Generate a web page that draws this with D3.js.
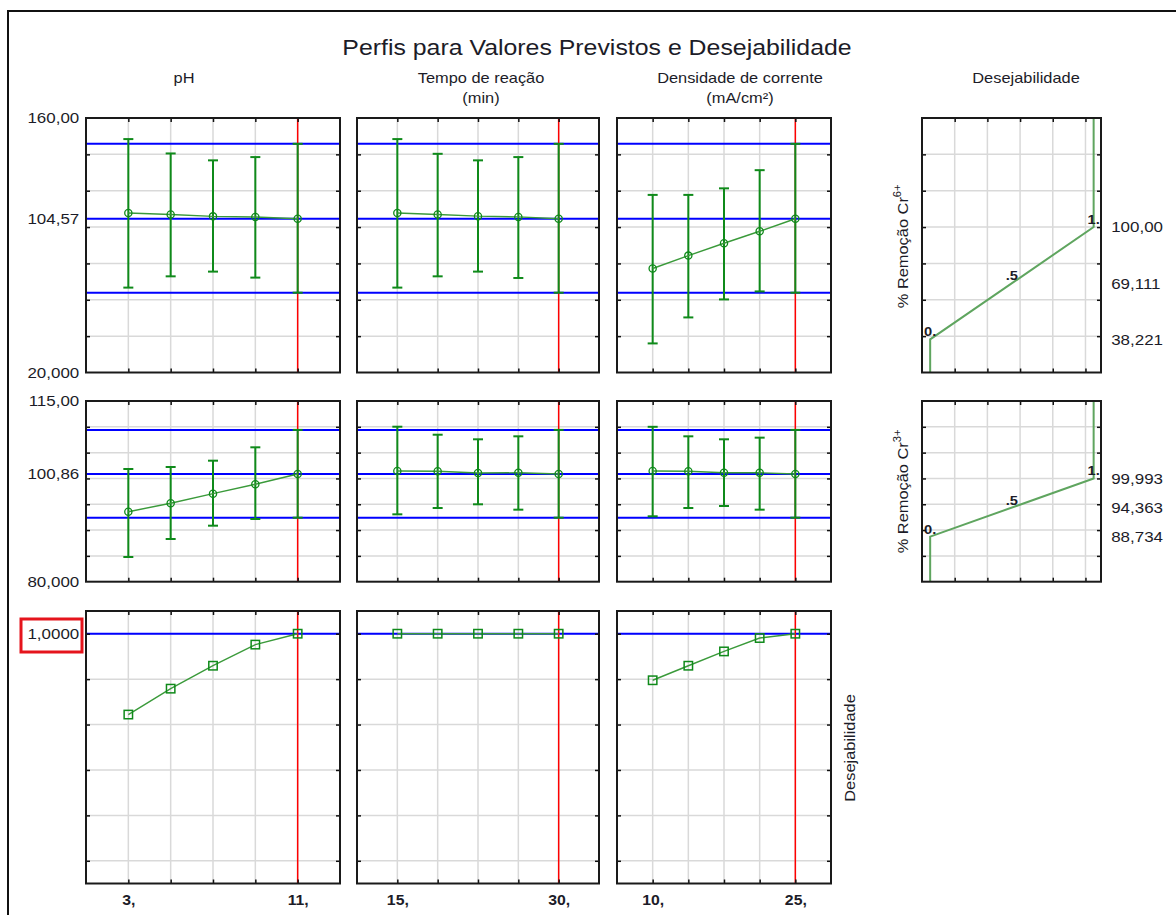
<!DOCTYPE html>
<html>
<head>
<meta charset="utf-8">
<script src="https://cdn.jsdelivr.net/npm/d3@7"></script>
<style>
  html, body { margin: 0; background: #fff; overflow: hidden; }
  svg { display: block; }
  svg text { font-family: "Liberation Sans", Arial, sans-serif; fill: #1c1c28; }
</style>
</head>
<body>
<svg id="chart" width="1176" height="915"></svg>
<script>
// Factor levels (x values of each column)
const phLevels = [3, 5, 7, 9, 11];
const tempoLevels = [15, 18.75, 22.5, 26.25, 30];
const densLevels = [10, 13.75, 17.5, 21.25, 25];
const currentLevels = [11, 30, 25];

// % Remoção Cr6+ : predicted value and confidence limits
const cr6PhMean = [107.7, 106.9, 105.9, 105.5, 104.57];
const cr6PhLow = [66.7, 72.9, 75.5, 72.2, 63.9];
const cr6PhHigh = [148.4, 140.5, 136.7, 138.5, 145.8];
const cr6TempoMean = [107.7, 106.9, 106.0, 105.6, 104.57];
const cr6TempoLow = [66.7, 72.9, 75.5, 72.0, 63.9];
const cr6TempoHigh = [148.4, 140.3, 136.7, 138.5, 145.8];
const cr6DensMean = [77.2, 84.3, 91.1, 97.7, 104.57];
const cr6DensLow = [36.0, 50.3, 60.2, 64.6, 63.9];
const cr6DensHigh = [117.7, 117.7, 121.3, 131.3, 145.8];
const cr6Ref = [63.9, 104.57, 145.8];
const cr6Domain = [20, 160];
const cr6Labels = [160, 104.57, 20];

// % Remoção Cr3+
const cr3PhMean = [93.56, 95.19, 97.05, 98.87, 100.86];
const cr3PhLow = [84.78, 88.27, 90.85, 92.14, 92.4];
const cr3PhHigh = [101.83, 102.22, 103.44, 106.03, 109.4];
const cr3TempoMean = [101.44, 101.39, 101.05, 101.1, 100.86];
const cr3TempoLow = [93.05, 94.27, 94.99, 93.95, 92.4];
const cr3TempoHigh = [110.02, 108.47, 107.58, 108.16, 109.4];
const cr3DensMean = [101.44, 101.4, 101.1, 101.1, 100.86];
const cr3DensLow = [92.67, 94.27, 94.66, 93.95, 92.4];
const cr3DensHigh = [110.0, 108.16, 107.58, 107.9, 109.4];
const cr3Ref = [92.4, 100.86, 109.4];
const cr3Domain = [80, 115];
const cr3Labels = [115, 100.86, 80];

// Desejabilidade global
const despPh = [0.644, 0.758, 0.859, 0.952, 1.0];
const despTempo = [1, 1, 1, 1, 1];
const despDens = [0.795, 0.859, 0.922, 0.981, 1.0];
const despRef = [1.0];
const despDomain = [-0.1, 1.1];
const despLabels = [1.0];

// desirability functions (response value at d = 0, .5, 1)
const desirLevels = [0, 0.5, 1];
const desirTexts = ["0.", ".5", "1."];
const cr6Desir = [38.221, 69.111, 100.00];
const cr3Desir = [88.734, 94.363, 99.993];
const desirDomain = [-0.05, 1.045];
const desirGrid = [0.15, 0.35, 0.55, 0.75, 0.95];

const svg = d3.select("#chart");
const SX = 1.13; // the original font is drawn wide
const GRID = "#d9d9d9";
const GREEN = "#0f8a1a";

const locale = d3.formatLocale({ decimal: ",", thousands: ".", grouping: [3], currency: ["", ""] });
const fmt = locale.format(".5r");

// layout
const cols = [
  { x0: 86, x1: 340, head: 184, lines: ["pH"] },
  { x0: 357, x1: 599, head: 481, lines: ["Tempo de reação", "(min)"] },
  { x0: 617, x1: 831, head: 740, lines: ["Densidade de corrente", "(mA/cm²)"] }
];
const desCol = { x0: 922, x1: 1101, head: 1026 };
const rows = [
  { y0: 118, y1: 372.5 },
  { y0: 401, y1: 581.7 },
  { y0: 611, y1: 883.5 }
];
const levels = [phLevels, tempoLevels, densLevels];

const responses = [
  { domain: cr6Domain, step: 20, ref: cr6Ref, labels: cr6Labels,
    means: [cr6PhMean, cr6TempoMean, cr6DensMean],
    lows: [cr6PhLow, cr6TempoLow, cr6DensLow],
    highs: [cr6PhHigh, cr6TempoHigh, cr6DensHigh] },
  { domain: cr3Domain, step: 5, ref: cr3Ref, labels: cr3Labels,
    means: [cr3PhMean, cr3TempoMean, cr3DensMean],
    lows: [cr3PhLow, cr3TempoLow, cr3DensLow],
    highs: [cr3PhHigh, cr3TempoHigh, cr3DensHigh] },
  { domain: despDomain, step: 0.2, ref: despRef, labels: despLabels,
    means: [despPh, despTempo, despDens] }
];

// outer frame
svg.append("path")
  .attr("d", "M8,930V11H1190")
  .attr("fill", "none")
  .attr("stroke", "#111")
  .attr("stroke-width", 2);

function txt(parent, x, y, str, size, opts = {}) {
  return parent.append("text")
    .attr("transform", `translate(${x},${y}) rotate(${opts.rotate || 0}) scale(${SX},1)`)
    .attr("text-anchor", opts.anchor || "middle")
    .attr("dominant-baseline", opts.baseline || "auto")
    .style("font-size", size + "px")
    .style("font-weight", opts.weight || "normal")
    .text(str);
}

txt(svg, 597, 55, "Perfis para Valores Previstos e Desejabilidade", 22);

cols.forEach(c => {
  c.lines.forEach((l, i) => txt(svg, c.head, 83 + i * 20, l, 14.5));
});
txt(svg, desCol.head, 83, "Desejabilidade", 14.5);

function gridAndFrame(g, xs, ys, xGrid, yGrid, box, layer) {
  if (layer === "grid") {
    g.selectAll(null).data(xGrid).join("line")
      .attr("x1", d => xs(d)).attr("x2", d => xs(d))
      .attr("y1", box.y0).attr("y2", box.y1)
      .attr("stroke", GRID).attr("stroke-width", 1.5);
    g.selectAll(null).data(yGrid).join("line")
      .attr("y1", d => ys(d)).attr("y2", d => ys(d))
      .attr("x1", box.x0).attr("x2", box.x1)
      .attr("stroke", GRID).attr("stroke-width", 1.5);
    return;
  }
  const noDomain = a => a.select(".domain").remove();
  const tickStyle = a => a.selectAll("line").attr("stroke", "#111").attr("stroke-width", 1.5);
  g.append("g").attr("transform", `translate(0,${box.y0})`)
    .call(d3.axisTop(xs).tickValues(xGrid).tickSize(-4).tickFormat(""))
    .call(noDomain).call(tickStyle);
  g.append("g").attr("transform", `translate(0,${box.y1})`)
    .call(d3.axisBottom(xs).tickValues(xGrid).tickSize(-4).tickFormat(""))
    .call(noDomain).call(tickStyle);
  g.append("g").attr("transform", `translate(${box.x0},0)`)
    .call(d3.axisLeft(ys).tickValues(yGrid).tickSize(-4).tickFormat(""))
    .call(noDomain).call(tickStyle);
  g.append("g").attr("transform", `translate(${box.x1},0)`)
    .call(d3.axisRight(ys).tickValues(yGrid).tickSize(-4).tickFormat(""))
    .call(noDomain).call(tickStyle);
  g.append("rect")
    .attr("x", box.x0).attr("y", box.y0)
    .attr("width", box.x1 - box.x0).attr("height", box.y1 - box.y0)
    .attr("fill", "none").attr("stroke", "#1a1a1a").attr("stroke-width", 2);
}

responses.forEach((resp, r) => {
  const row = rows[r];
  const ys = d3.scaleLinear().domain(resp.domain).range([row.y1, row.y0]);
  const yGrid = r < 2
    ? d3.range(resp.domain[0] + resp.step, resp.domain[1] - resp.step / 2, resp.step)
    : d3.range(0, 1.0001, resp.step);

  cols.forEach((c, ci) => {
    const lv = levels[ci];
    const stepX = (lv[lv.length - 1] - lv[0]) / 4;
    const xs = d3.scaleLinear()
      .domain([lv[0] - stepX, lv[lv.length - 1] + stepX])
      .range([c.x0, c.x1]);
    const box = { x0: c.x0, x1: c.x1, y0: row.y0, y1: row.y1 };
    const g = svg.append("g");
    gridAndFrame(g, xs, ys, lv, yGrid, box, "grid");

    // reference lines (current prediction and limits)
    g.selectAll(null).data(resp.ref).join("line")
      .attr("x1", c.x0).attr("x2", c.x1)
      .attr("y1", d => ys(d)).attr("y2", d => ys(d))
      .attr("stroke", "#0000ff").attr("stroke-width", 2);
    // current factor level
    g.append("line")
      .attr("x1", xs(currentLevels[ci])).attr("x2", xs(currentLevels[ci]))
      .attr("y1", row.y0).attr("y2", row.y1)
      .attr("stroke", "#ff0000").attr("stroke-width", 1.5);

    const means = resp.means[ci];
    const pts = lv.map((x, i) => ({ x, y: means[i] }));

    if (resp.lows) {
      const bars = lv.map((x, i) => ({ x, lo: resp.lows[ci][i], hi: resp.highs[ci][i] }));
      const eb = g.append("g").attr("stroke", GREEN).attr("stroke-width", 2);
      eb.selectAll(null).data(bars).join("line")
        .attr("x1", d => xs(d.x)).attr("x2", d => xs(d.x))
        .attr("y1", d => ys(d.lo)).attr("y2", d => ys(d.hi));
      eb.selectAll(null).data(bars.flatMap(d => [{ x: d.x, y: d.lo }, { x: d.x, y: d.hi }])).join("line")
        .attr("x1", d => xs(d.x) - 5).attr("x2", d => xs(d.x) + 5)
        .attr("y1", d => ys(d.y)).attr("y2", d => ys(d.y));
    }

    g.append("path").datum(pts)
      .attr("fill", "none").attr("stroke", "#3a9a3a").attr("stroke-width", 1.4)
      .attr("d", d3.line().x(d => xs(d.x)).y(d => ys(d.y)));

    if (resp.lows) {
      g.selectAll(null).data(pts).join("circle")
        .attr("cx", d => xs(d.x)).attr("cy", d => ys(d.y)).attr("r", 3.6)
        .attr("fill", "none").attr("stroke", GREEN).attr("stroke-width", 1.3);
    } else {
      g.selectAll(null).data(pts).join("rect")
        .attr("x", d => xs(d.x) - 4.2).attr("y", d => ys(d.y) - 4.2)
        .attr("width", 8.4).attr("height", 8.4)
        .attr("fill", "none").attr("stroke", GREEN).attr("stroke-width", 1.5);
    }

    gridAndFrame(g, xs, ys, lv, yGrid, box, "frame");

    // x labels on the bottom row
    if (r === 2) {
      svg.append("g").attr("transform", `translate(0,${row.y1})`)
        .call(d3.axisBottom(xs).tickValues([lv[0], lv[lv.length - 1]]).tickSize(0).tickPadding(12).tickFormat(d => d + ","))
        .call(a => a.select(".domain").remove())
        .call(a => a.selectAll("text")
          .attr("transform", `scale(${SX},1)`)
          .style("font-size", "14px").style("font-weight", "bold")
          .style("font-family", "'Liberation Sans', Arial, sans-serif").attr("fill", "#1c1c28"));
    }
  });

  // y labels on the left
  svg.append("g").attr("transform", `translate(${cols[0].x0},0)`)
    .call(d3.axisLeft(ys).tickValues(resp.labels).tickSize(0).tickPadding(6).tickFormat(fmt))
    .call(a => a.select(".domain").remove())
    .call(a => a.selectAll("text")
      .attr("transform", `scale(${SX},1)`)
      .style("font-size", "15px")
      .style("font-family", "'Liberation Sans', Arial, sans-serif").attr("fill", "#1c1c28"));
});

// desirability function panels
const desir = [cr6Desir, cr3Desir];
const desirNames = ["6+", "3+"];
[0, 1].forEach(r => {
  const resp = responses[r];
  const row = rows[r];
  const ys = d3.scaleLinear().domain(resp.domain).range([row.y1, row.y0]);
  const yGrid = d3.range(resp.domain[0] + resp.step, resp.domain[1] - resp.step / 2, resp.step);
  const xs = d3.scaleLinear().domain(desirDomain).range([desCol.x0, desCol.x1]);
  const box = { x0: desCol.x0, x1: desCol.x1, y0: row.y0, y1: row.y1 };
  const g = svg.append("g");
  gridAndFrame(g, xs, ys, desirGrid, yGrid, box, "grid");

  const vals = desir[r];
  const curve = [
    { d: desirLevels[0], v: resp.domain[0] },
    { d: desirLevels[0], v: vals[0] },
    { d: desirLevels[2], v: vals[2] },
    { d: desirLevels[2], v: resp.domain[1] }
  ];
  g.append("path").datum(curve)
    .attr("fill", "none").attr("stroke", "#5fa55f").attr("stroke-width", 2)
    .attr("d", d3.line().x(d => xs(d.d)).y(d => ys(d.v)));

  desirLevels.forEach((d, i) => {
    txt(g, xs(d), ys(vals[i]) - 3, desirTexts[i], 13, { weight: "bold" });
  });

  gridAndFrame(g, xs, ys, desirGrid, yGrid, box, "frame");

  svg.append("g").attr("transform", `translate(${desCol.x1},0)`)
    .call(d3.axisRight(ys).tickValues(vals).tickSize(0).tickPadding(9).tickFormat(fmt))
    .call(a => a.select(".domain").remove())
    .call(a => a.selectAll("text")
      .attr("transform", `scale(${SX},1)`)
      .style("font-size", "15px")
      .style("font-family", "'Liberation Sans', Arial, sans-serif").attr("fill", "#1c1c28"));

  const t = txt(svg, 903, (row.y0 + row.y1) / 2 + (r === 0 ? 1 : 0), "% Remoção Cr", 14.5,
    { rotate: -90, baseline: "central" });
  t.append("tspan").attr("dy", -6).style("font-size", "10px").text(desirNames[r]);
});

txt(svg, 850, 748, "Desejabilidade", 14.5, { rotate: -90, baseline: "central" });

// highlight box around the 1,0000 label
svg.append("rect")
  .attr("x", 21).attr("y", 619).attr("width", 61).attr("height", 33)
  .attr("fill", "none").attr("stroke", "#e5141c").attr("stroke-width", 3);
</script>
</body>
</html>
